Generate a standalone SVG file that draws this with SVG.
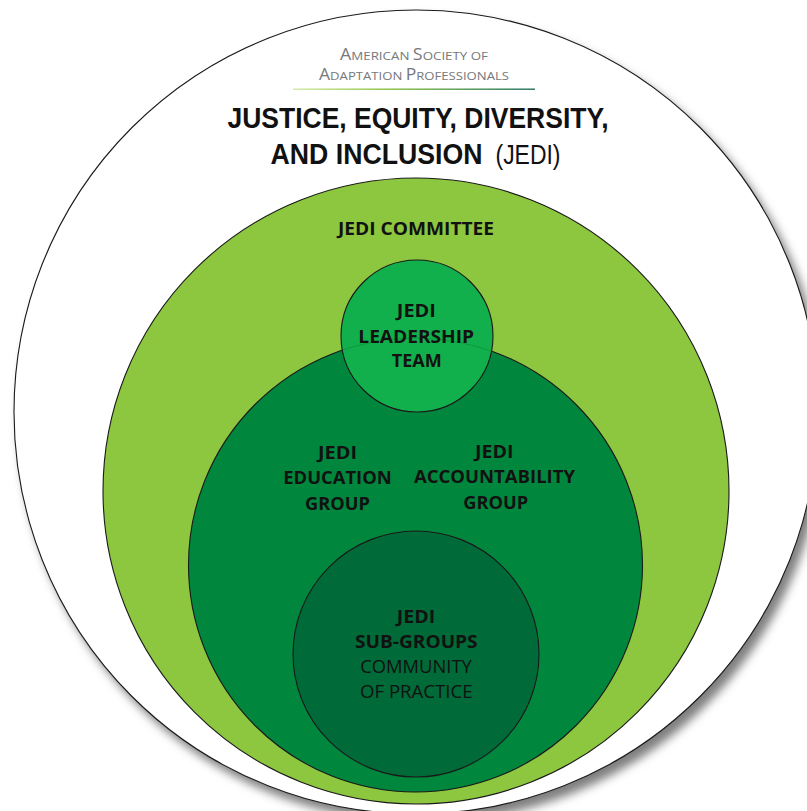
<svg xmlns="http://www.w3.org/2000/svg" width="807" height="811" viewBox="0 0 807 811">
  <defs>
    <style>
      .ring { stroke: #1a1a1a; stroke-width: 1.1; }
      .t { font-family: "Open Sans", "Noto Sans", "Liberation Sans", sans-serif; fill: #111; }
      .title { font-family: "Liberation Sans", Arial, sans-serif; fill: #111; }
      .b { font-weight: 700; }
      .r { font-weight: 400; }
      .lbl { font-size: 17.5px; text-anchor: middle; }
      .org { font-family: "Open Sans", "Noto Sans", "Liberation Sans", sans-serif; fill: #77787b; font-weight: 400; }
      .big { font-size: 15.5px; }
      .sm { font-size: 11.6px; }
    </style>
    <filter id="shadow" x="-10%" y="-10%" width="125%" height="125%">
      <feDropShadow dx="6" dy="8" stdDeviation="5" flood-color="#000" flood-opacity="0.5"/>
    </filter>
    <linearGradient id="rule" x1="0" y1="0" x2="1" y2="0">
      <stop offset="0" stop-color="#d4e8a8"/>
      <stop offset="0.35" stop-color="#8dc63f"/>
      <stop offset="1" stop-color="#1f6f5c"/>
    </linearGradient>
    <clipPath id="leadClip">
      <circle cx="417" cy="336" r="76"/>
    </clipPath>
  </defs>

  <rect x="0" y="0" width="807" height="811" fill="#ffffff"/>

  <g id="outer">
    <circle cx="416" cy="412" r="402" fill="#ffffff" class="ring" filter="url(#shadow)"/>
    <text class="org" x="340" y="59.5" textLength="148" lengthAdjust="spacingAndGlyphs"><tspan class="big">A</tspan><tspan class="sm">MERICAN </tspan><tspan class="big">S</tspan><tspan class="sm">OCIETY OF</tspan></text>
    <text class="org" x="319" y="80" textLength="190" lengthAdjust="spacingAndGlyphs"><tspan class="big">A</tspan><tspan class="sm">DAPTATION </tspan><tspan class="big">P</tspan><tspan class="sm">ROFESSIONALS</tspan></text>
    <rect x="293" y="88.5" width="242" height="1.4" fill="url(#rule)"/>
    <text class="title b" x="227.5" y="128" font-size="29" textLength="381" lengthAdjust="spacingAndGlyphs">JUSTICE, EQUITY, DIVERSITY,</text>
    <text class="title b" x="270.5" y="163.5" font-size="29" textLength="212" lengthAdjust="spacingAndGlyphs">AND INCLUSION</text>
    <text class="title r" x="495.5" y="163.5" font-size="28" textLength="65" lengthAdjust="spacingAndGlyphs">(JEDI)</text>
  </g>

  <g id="committee">
    <circle cx="416" cy="491" r="313" fill="#8dc63f" class="ring"/>
    <text class="t b" x="338" y="235" font-size="17.5" textLength="156" lengthAdjust="spacingAndGlyphs">JEDI COMMITTEE</text>
  </g>

  <g id="groups">
    <circle cx="415.5" cy="565" r="227" fill="#00873d" class="ring"/>
  </g>

  <g id="education-group">
    <text class="t b lbl" x="337.5" y="459.3" textLength="39" lengthAdjust="spacingAndGlyphs">JEDI</text>
    <text class="t b lbl" x="337.5" y="484.3" textLength="108.5" lengthAdjust="spacingAndGlyphs">EDUCATION</text>
    <text class="t b lbl" x="337.5" y="509.5" textLength="65" lengthAdjust="spacingAndGlyphs">GROUP</text>
  </g>

  <g id="accountability-group">
    <text class="t b lbl" x="494.2" y="458.3" textLength="38.5" lengthAdjust="spacingAndGlyphs">JEDI</text>
    <text class="t b lbl" x="494.5" y="483.3" textLength="161" lengthAdjust="spacingAndGlyphs">ACCOUNTABILITY</text>
    <text class="t b lbl" x="495.8" y="508.8" textLength="65" lengthAdjust="spacingAndGlyphs">GROUP</text>
  </g>

  <g id="sub-groups">
    <circle cx="416" cy="654" r="123" fill="#006a38" class="ring"/>
    <text class="t b lbl" x="416" y="623.3" textLength="38.5" lengthAdjust="spacingAndGlyphs">JEDI</text>
    <text class="t b lbl" x="416.3" y="648.3" textLength="122.7" lengthAdjust="spacingAndGlyphs">SUB-GROUPS</text>
    <text class="t r lbl" x="416" y="673.3" textLength="111.7" lengthAdjust="spacingAndGlyphs">COMMUNITY</text>
    <text class="t r lbl" x="416.3" y="698.3" textLength="112.7" lengthAdjust="spacingAndGlyphs">OF PRACTICE</text>
  </g>

  <g id="leadership-team">
    <circle cx="417" cy="336" r="76" fill="#12b04c" class="ring"/>
    <circle cx="415.5" cy="565" r="227" fill="none" stroke="#0a6a30" stroke-opacity="0.35" stroke-width="1" clip-path="url(#leadClip)"/>
    <text class="t b lbl" x="416.3" y="316.7" textLength="39" lengthAdjust="spacingAndGlyphs">JEDI</text>
    <text class="t b lbl" x="416.2" y="342.5" textLength="115.7" lengthAdjust="spacingAndGlyphs">LEADERSHIP</text>
    <text class="t b lbl" x="416.7" y="366.5" textLength="50" lengthAdjust="spacingAndGlyphs">TEAM</text>
  </g>

  <g id="connectors"/>
</svg>
